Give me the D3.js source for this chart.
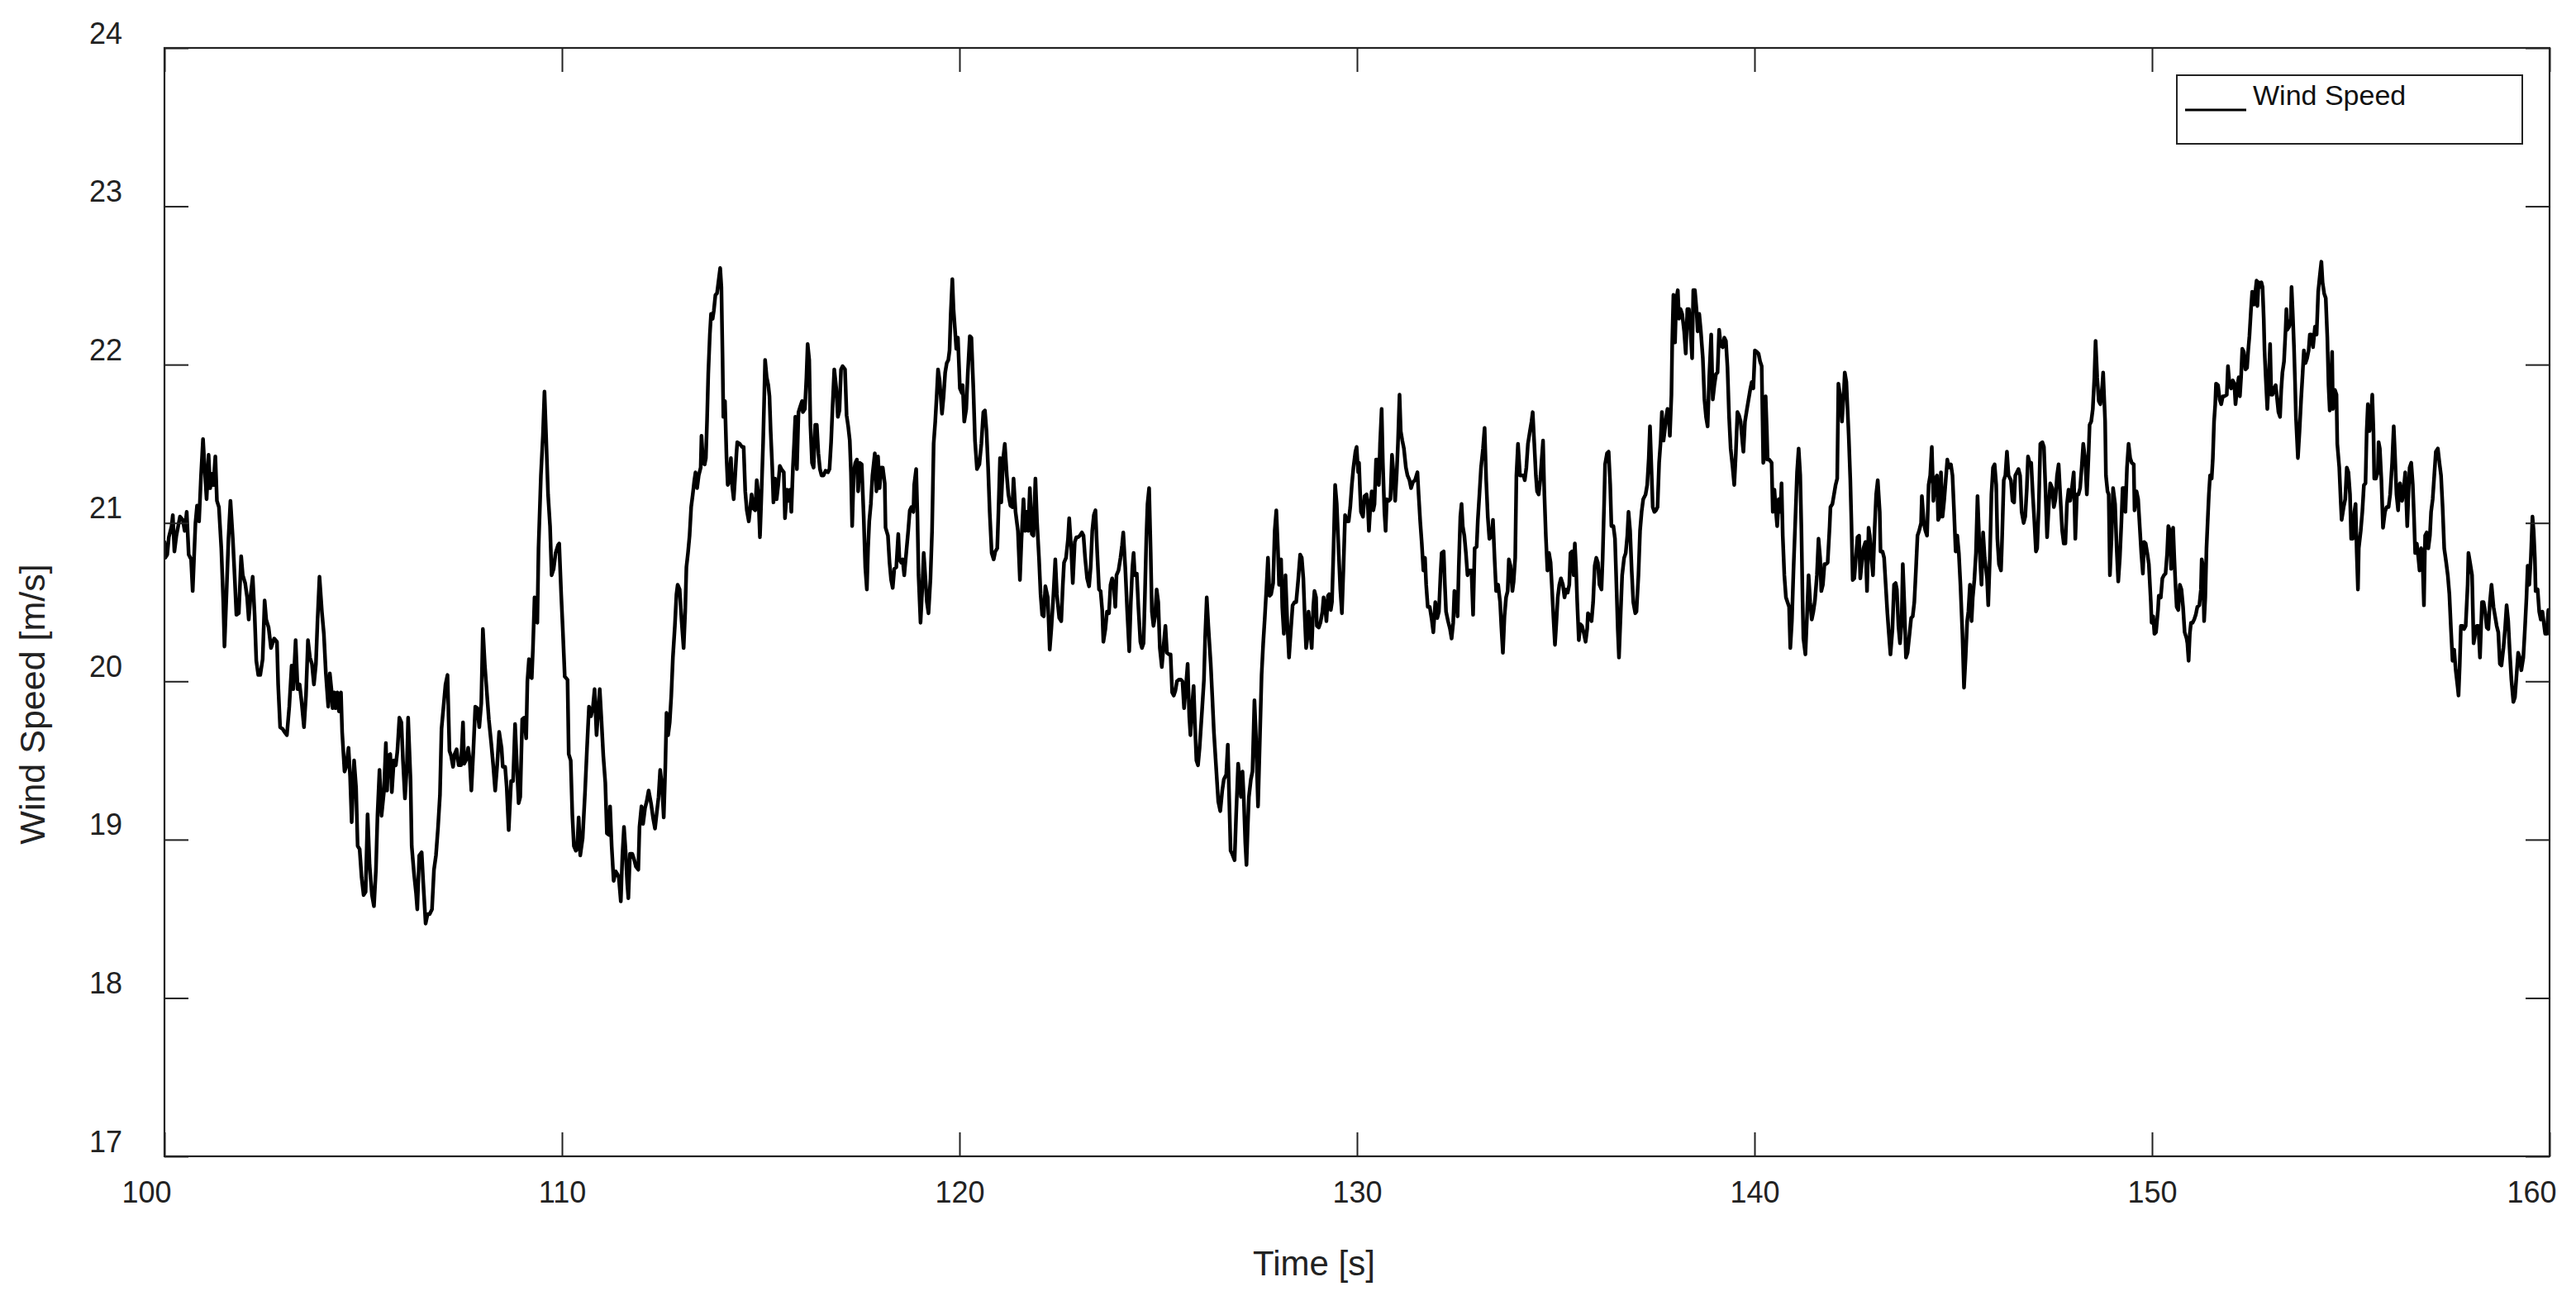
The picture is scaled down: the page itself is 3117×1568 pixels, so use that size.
<!DOCTYPE html>
<html>
<head>
<meta charset="utf-8">
<script src="https://cdnjs.cloudflare.com/ajax/libs/d3/7.8.5/d3.min.js"></script>
<style>
  html, body { margin: 0; padding: 0; background: #ffffff; }
  svg { display: block; }
</style>
</head>
<body>
<script>
// ---------------- DATA ----------------
const xTickValues = [100, 110, 120, 130, 140, 150, 160];
const yTickValues = [17, 18, 19, 20, 21, 22, 23, 24];
const xLabel = "Time [s]";
const yLabel = "Wind Speed [m/s]";
const seriesName = "Wind Speed";

// [time (s), wind speed (m/s)]
const windSpeed = [
[100.00,20.88],[100.02,20.78],[100.07,20.80],[100.11,20.91],[100.18,20.98],[100.21,21.05],[100.25,20.82],[100.30,20.92],[100.39,21.04],[100.46,21.02],[100.51,20.95],[100.56,21.07],[100.61,20.80],[100.67,20.77],[100.71,20.57],[100.78,21.00],[100.82,21.11],[100.87,21.01],[100.92,21.30],[100.97,21.53],[101.01,21.35],[101.06,21.15],[101.11,21.43],[101.15,21.22],[101.20,21.31],[101.23,21.24],[101.28,21.42],[101.32,21.14],[101.37,21.10],[101.43,20.84],[101.48,20.50],[101.51,20.22],[101.56,20.55],[101.61,20.90],[101.66,21.14],[101.72,20.90],[101.77,20.64],[101.81,20.42],[101.87,20.43],[101.93,20.79],[101.97,20.67],[102.03,20.62],[102.08,20.53],[102.12,20.39],[102.17,20.55],[102.22,20.66],[102.27,20.41],[102.31,20.13],[102.36,20.04],[102.41,20.04],[102.47,20.14],[102.52,20.51],[102.56,20.39],[102.62,20.34],[102.68,20.21],[102.72,20.24],[102.76,20.27],[102.83,20.25],[102.86,19.98],[102.91,19.71],[102.97,19.70],[103.02,19.68],[103.08,19.66],[103.14,19.84],[103.20,20.10],[103.24,19.95],[103.30,20.26],[103.35,19.95],[103.40,19.98],[103.45,19.87],[103.51,19.71],[103.56,19.91],[103.61,20.26],[103.66,20.15],[103.71,20.11],[103.76,19.98],[103.81,20.11],[103.85,20.38],[103.90,20.66],[103.96,20.44],[104.01,20.30],[104.06,20.05],[104.12,19.84],[104.16,20.05],[104.20,19.95],[104.23,19.83],[104.27,19.93],[104.30,19.83],[104.35,19.93],[104.39,19.81],[104.44,19.93],[104.47,19.68],[104.53,19.43],[104.57,19.46],[104.63,19.58],[104.67,19.40],[104.71,19.11],[104.77,19.50],[104.82,19.33],[104.86,18.96],[104.91,18.94],[104.96,18.76],[105.01,18.65],[105.06,18.67],[105.11,19.16],[105.16,18.84],[105.22,18.65],[105.27,18.58],[105.32,18.81],[105.36,19.16],[105.41,19.44],[105.46,19.15],[105.52,19.30],[105.57,19.61],[105.60,19.31],[105.63,19.53],[105.68,19.54],[105.72,19.30],[105.77,19.50],[105.82,19.47],[105.86,19.56],[105.91,19.77],[105.96,19.74],[106.00,19.50],[106.05,19.26],[106.10,19.47],[106.13,19.77],[106.19,19.38],[106.22,18.96],[106.28,18.78],[106.33,18.66],[106.36,18.56],[106.41,18.90],[106.47,18.92],[106.51,18.73],[106.57,18.47],[106.62,18.53],[106.67,18.53],[106.73,18.56],[106.78,18.81],[106.83,18.90],[106.88,19.07],[106.93,19.28],[106.97,19.70],[107.02,19.84],[107.07,19.98],[107.12,20.04],[107.17,19.56],[107.21,19.53],[107.26,19.46],[107.30,19.54],[107.35,19.57],[107.40,19.47],[107.46,19.47],[107.51,19.74],[107.54,19.48],[107.60,19.51],[107.64,19.58],[107.68,19.50],[107.72,19.31],[107.77,19.56],[107.82,19.84],[107.87,19.83],[107.92,19.71],[107.97,19.86],[108.01,20.33],[108.06,20.10],[108.11,19.93],[108.16,19.76],[108.22,19.61],[108.27,19.47],[108.32,19.31],[108.37,19.47],[108.42,19.68],[108.48,19.58],[108.51,19.46],[108.57,19.46],[108.61,19.33],[108.66,19.06],[108.72,19.37],[108.77,19.37],[108.82,19.73],[108.86,19.50],[108.91,19.23],[108.95,19.27],[109.00,19.76],[109.05,19.77],[109.10,19.64],[109.13,20.00],[109.17,20.14],[109.20,20.03],[109.24,20.02],[109.27,20.21],[109.31,20.53],[109.34,20.38],[109.38,20.37],[109.41,20.84],[109.47,21.30],[109.52,21.55],[109.56,21.83],[109.60,21.55],[109.65,21.18],[109.70,20.98],[109.74,20.67],[109.79,20.71],[109.84,20.81],[109.90,20.86],
[109.93,20.87],[109.98,20.55],[110.02,20.33],[110.07,20.03],[110.14,20.01],[110.17,19.54],[110.22,19.50],[110.26,19.16],[110.30,18.96],[110.35,18.93],[110.38,18.94],[110.42,19.14],[110.46,18.90],[110.52,19.01],[110.58,19.30],[110.63,19.58],[110.68,19.84],[110.73,19.78],[110.78,19.84],[110.82,19.95],[110.87,19.66],[110.91,19.81],[110.95,19.95],[110.99,19.77],[111.04,19.53],[111.09,19.36],[111.13,19.04],[111.18,19.03],[111.21,19.21],[111.25,18.96],[111.30,18.74],[111.35,18.80],[111.40,18.78],[111.43,18.76],[111.48,18.61],[111.52,18.90],[111.56,19.08],[111.60,18.93],[111.64,18.73],[111.67,18.63],[111.71,18.91],[111.77,18.91],[111.82,18.87],[111.86,18.83],[111.92,18.81],[111.95,19.08],[112.00,19.21],[112.04,19.10],[112.09,19.20],[112.13,19.24],[112.18,19.31],[112.24,19.23],[112.29,19.14],[112.34,19.07],[112.38,19.16],[112.43,19.27],[112.47,19.44],[112.52,19.33],[112.56,19.14],[112.60,19.46],[112.63,19.80],[112.67,19.66],[112.71,19.74],[112.75,19.91],[112.79,20.15],[112.84,20.35],[112.88,20.55],[112.91,20.61],[112.96,20.58],[113.01,20.38],[113.06,20.21],[113.10,20.44],[113.13,20.72],[113.17,20.81],[113.21,20.92],[113.25,21.10],[113.29,21.18],[113.33,21.27],[113.36,21.32],[113.40,21.22],[113.44,21.30],[113.49,21.35],[113.51,21.55],[113.55,21.38],[113.59,21.37],[113.62,21.41],[113.65,21.65],[113.68,21.94],[113.72,22.19],[113.75,22.32],[113.79,22.29],[113.82,22.34],[113.86,22.44],[113.90,22.45],[113.94,22.53],[113.98,22.61],[114.01,22.49],[114.04,22.04],[114.06,21.67],[114.10,21.77],[114.14,21.41],[114.17,21.24],[114.21,21.27],[114.25,21.41],[114.28,21.24],[114.32,21.15],[114.35,21.27],[114.39,21.44],[114.41,21.51],[114.47,21.50],[114.53,21.48],[114.57,21.48],[114.61,21.20],[114.65,21.08],[114.70,21.01],[114.73,21.08],[114.77,21.18],[114.82,21.09],[114.86,21.08],[114.90,21.27],[114.94,21.18],[114.98,20.91],[115.01,21.12],[115.06,21.51],[115.09,21.81],[115.11,22.03],[115.15,21.92],[115.19,21.87],[115.22,21.80],[115.25,21.58],[115.29,21.35],[115.32,21.13],[115.36,21.28],[115.40,21.15],[115.44,21.24],[115.48,21.36],[115.52,21.34],[115.58,21.32],[115.61,21.03],[115.66,21.21],[115.70,21.14],[115.74,21.21],[115.77,21.07],[115.81,21.35],[115.84,21.50],[115.87,21.67],[115.91,21.34],[115.95,21.70],[116.00,21.74],[116.04,21.77],[116.06,21.70],[116.11,21.72],[116.15,21.92],[116.18,22.13],[116.22,22.03],[116.25,21.62],[116.29,21.38],[116.33,21.35],[116.37,21.62],[116.41,21.62],[116.45,21.44],[116.49,21.34],[116.53,21.30],[116.58,21.30],[116.63,21.33],[116.69,21.32],[116.73,21.34],[116.77,21.51],[116.81,21.75],[116.85,21.97],[116.90,21.85],[116.94,21.67],[116.98,21.71],[117.02,21.97],[117.06,21.99],[117.12,21.97],[117.16,21.68],[117.20,21.61],[117.24,21.52],[117.27,21.32],[117.30,20.98],[117.34,21.32],[117.38,21.38],[117.42,21.40],[117.45,21.20],[117.49,21.38],[117.54,21.37],[117.59,21.04],[117.63,20.72],[117.67,20.58],[117.70,20.84],[117.73,21.01],[117.77,21.12],[117.81,21.30],[117.87,21.44],[117.91,21.20],[117.95,21.42],[117.99,21.22],[118.03,21.35],[118.07,21.35],[118.12,21.25],[118.14,20.97],[118.20,20.92],[118.24,20.75],[118.28,20.64],[118.32,20.59],[118.36,20.71],[118.41,20.72],[118.46,20.93],[118.49,20.77],[118.53,20.75],[118.57,20.77],[118.61,20.67],[118.66,20.81],[118.71,20.95],[118.75,21.08],[118.79,21.10],[118.84,21.07],[118.86,21.24],[118.91,21.34],[118.94,21.07],[118.97,20.67],[119.02,20.37],[119.06,20.57],[119.10,20.81],[119.13,20.70],[119.18,20.50],[119.22,20.43],[119.27,20.65],[119.31,20.95],[119.35,21.50],[119.39,21.64],[119.43,21.82],[119.46,21.97],[119.50,21.90],[119.56,21.69],[119.60,21.80],[119.64,21.95],[119.68,22.01],[119.72,22.03],[119.75,22.09],[119.78,22.32],[119.82,22.54],[119.85,22.35],[119.89,22.21],[119.92,22.10],[119.96,22.17],[119.99,21.98],[120.01,21.85],[120.06,21.82],
[120.08,21.87],[120.12,21.64],[120.17,21.72],[120.21,21.95],[120.26,22.18],[120.30,22.17],[120.35,21.84],[120.39,21.52],[120.44,21.34],[120.50,21.37],[120.55,21.50],[120.60,21.70],[120.64,21.71],[120.68,21.58],[120.72,21.35],[120.76,21.07],[120.81,20.81],[120.86,20.77],[120.90,20.82],[120.95,20.84],[120.98,21.07],[121.02,21.41],[121.05,21.13],[121.10,21.41],[121.14,21.50],[121.19,21.30],[121.23,21.18],[121.28,21.11],[121.33,21.10],[121.36,21.28],[121.41,21.07],[121.47,20.95],[121.52,20.64],[121.56,20.90],[121.61,21.15],[121.65,20.95],[121.69,21.07],[121.73,20.95],[121.77,21.22],[121.82,20.93],[121.86,20.92],[121.91,21.28],[121.95,21.01],[122.00,20.78],[122.04,20.55],[122.08,20.42],[122.12,20.41],[122.16,20.60],[122.22,20.53],[122.27,20.20],[122.31,20.33],[122.36,20.53],[122.41,20.77],[122.45,20.55],[122.51,20.40],[122.56,20.38],[122.60,20.61],[122.63,20.75],[122.68,20.78],[122.73,20.90],[122.76,21.03],[122.81,20.84],[122.85,20.62],[122.90,20.88],[122.94,20.91],[122.98,20.91],[123.03,20.92],[123.08,20.94],[123.12,20.92],[123.16,20.78],[123.21,20.65],[123.26,20.60],[123.30,20.72],[123.34,20.95],[123.38,21.05],[123.42,21.08],[123.46,20.84],[123.51,20.58],[123.55,20.57],[123.59,20.45],[123.62,20.25],[123.67,20.33],[123.71,20.44],[123.76,20.43],[123.80,20.61],[123.84,20.65],[123.88,20.61],[123.92,20.47],[123.95,20.67],[124.00,20.70],[124.05,20.78],[124.09,20.86],[124.12,20.94],[124.17,20.72],[124.22,20.44],[124.27,20.19],[124.31,20.50],[124.35,20.72],[124.38,20.81],[124.41,20.67],[124.46,20.68],[124.50,20.47],[124.55,20.25],[124.59,20.21],[124.63,20.24],[124.66,20.50],[124.70,20.90],[124.73,21.12],[124.77,21.22],[124.81,20.81],[124.84,20.44],[124.88,20.35],[124.92,20.41],[124.96,20.58],[125.00,20.50],[125.04,20.21],[125.09,20.09],[125.14,20.24],[125.18,20.35],[125.22,20.18],[125.27,20.17],[125.31,20.17],[125.35,19.93],[125.39,19.91],[125.43,19.94],[125.47,20.00],[125.52,20.01],[125.57,20.01],[125.61,20.00],[125.65,19.83],[125.70,19.98],[125.74,20.11],[125.78,19.78],[125.81,19.66],[125.85,19.84],[125.89,19.97],[125.92,19.75],[125.96,19.50],[126.00,19.47],[126.04,19.58],[126.10,19.81],[126.15,20.01],[126.18,20.28],[126.22,20.53],[126.26,20.35],[126.32,20.11],[126.36,19.90],[126.40,19.68],[126.46,19.44],[126.51,19.24],[126.56,19.18],[126.61,19.31],[126.65,19.38],[126.71,19.41],[126.75,19.60],[126.79,19.21],[126.82,18.93],[126.86,18.91],[126.92,18.87],[126.96,19.16],[127.01,19.48],[127.05,19.37],[127.08,19.27],[127.12,19.43],[127.15,19.27],[127.19,18.98],[127.22,18.84],[127.25,19.07],[127.28,19.27],[127.33,19.38],[127.37,19.43],[127.42,19.88],[127.46,19.64],[127.51,19.21],[127.55,19.58],[127.60,20.04],[127.64,20.24],[127.68,20.40],[127.72,20.58],[127.76,20.78],[127.80,20.54],[127.84,20.55],[127.89,20.62],[127.93,20.95],[127.97,21.08],[128.01,20.84],[128.04,20.61],[128.09,20.77],[128.12,20.47],[128.16,20.30],[128.20,20.67],[128.25,20.35],[128.29,20.15],[128.33,20.30],[128.38,20.48],[128.43,20.50],[128.47,20.50],[128.52,20.64],[128.57,20.80],[128.61,20.78],[128.65,20.65],[128.69,20.38],[128.72,20.21],[128.75,20.27],[128.78,20.44],[128.82,20.34],[128.86,20.21],[128.90,20.47],[128.93,20.57],[128.97,20.53],[128.99,20.35],[129.04,20.34],[129.08,20.37],[129.13,20.44],[129.16,20.53],[129.20,20.47],[129.23,20.38],[129.27,20.54],[129.30,20.55],[129.34,20.45],[129.37,20.50],[129.41,20.84],[129.45,21.24],[129.49,21.12],[129.54,20.81],[129.58,20.58],[129.62,20.43],[129.66,20.72],[129.70,21.05],[129.74,21.01],[129.79,21.01],[129.83,21.10],[129.87,21.24],[129.91,21.35],[129.96,21.45],[129.99,21.48],[130.03,21.32],
[130.05,21.38],[130.08,21.18],[130.10,21.07],[130.15,21.04],[130.19,21.17],[130.24,21.18],[130.27,21.12],[130.30,20.95],[130.34,21.12],[130.37,21.20],[130.41,21.08],[130.44,21.12],[130.48,21.40],[130.51,21.40],[130.55,21.24],[130.58,21.50],[130.62,21.72],[130.65,21.38],[130.69,21.07],[130.72,20.95],[130.75,21.15],[130.80,21.14],[130.84,21.15],[130.88,21.43],[130.93,21.27],[130.96,21.14],[131.00,21.32],[131.03,21.50],[131.07,21.81],[131.10,21.58],[131.14,21.52],[131.18,21.47],[131.23,21.35],[131.27,21.30],[131.32,21.27],[131.36,21.22],[131.41,21.26],[131.46,21.27],[131.52,21.32],[131.55,21.18],[131.59,21.01],[131.63,20.87],[131.67,20.70],[131.71,20.78],[131.74,20.61],[131.78,20.47],[131.83,20.47],[131.88,20.39],[131.92,20.31],[131.97,20.50],[132.02,20.40],[132.06,20.44],[132.10,20.67],[132.13,20.81],[132.18,20.82],[132.21,20.61],[132.24,20.44],[132.29,20.38],[132.34,20.33],[132.38,20.27],[132.42,20.37],[132.45,20.57],[132.49,20.55],[132.53,20.41],[132.56,20.72],[132.60,21.04],[132.63,21.12],[132.66,20.98],[132.70,20.92],[132.74,20.81],[132.78,20.67],[132.82,20.70],[132.88,20.70],[132.92,20.42],[132.96,20.84],[133.01,20.85],[133.04,21.02],[133.08,21.18],[133.12,21.35],[133.17,21.47],[133.21,21.60],[133.25,21.27],[133.29,21.04],[133.33,20.90],[133.39,20.92],[133.42,21.02],[133.46,20.78],[133.50,20.57],[133.55,20.61],[133.60,20.50],[133.63,20.35],[133.67,20.18],[133.71,20.41],[133.75,20.53],[133.79,20.57],[133.82,20.77],[133.86,20.73],[133.91,20.57],[133.94,20.63],[133.98,20.78],[134.01,21.30],[134.05,21.50],[134.10,21.30],[134.14,21.30],[134.19,21.30],[134.22,21.27],[134.26,21.35],[134.30,21.50],[134.35,21.58],[134.39,21.64],[134.42,21.70],[134.46,21.50],[134.50,21.30],[134.53,21.20],[134.57,21.18],[134.61,21.27],[134.64,21.38],[134.68,21.52],[134.71,21.21],[134.75,20.92],[134.79,20.70],[134.83,20.81],[134.87,20.75],[134.90,20.61],[134.94,20.41],[134.98,20.23],[135.01,20.35],[135.05,20.53],[135.09,20.61],[135.13,20.65],[135.18,20.61],[135.22,20.53],[135.26,20.58],[135.30,20.56],[135.34,20.61],[135.37,20.81],[135.41,20.82],[135.45,20.67],[135.48,20.87],[135.51,20.72],[135.54,20.50],[135.58,20.26],[135.62,20.36],[135.66,20.35],[135.71,20.30],[135.75,20.25],[135.79,20.33],[135.81,20.43],[135.86,20.41],[135.90,20.38],[135.94,20.50],[135.98,20.73],[136.02,20.78],[136.06,20.75],[136.10,20.61],[136.15,20.58],[136.18,20.78],[136.22,21.15],[136.24,21.37],[136.29,21.44],[136.33,21.45],[136.37,21.24],[136.40,20.98],[136.45,20.98],[136.49,20.90],[136.53,20.58],[136.56,20.33],[136.59,20.15],[136.63,20.41],[136.67,20.67],[136.72,20.78],[136.76,20.81],[136.80,20.92],[136.83,21.07],[136.87,20.95],[136.91,20.70],[136.95,20.50],[137.00,20.43],[137.03,20.44],[137.08,20.67],[137.12,20.95],[137.16,21.07],[137.20,21.15],[137.26,21.18],[137.30,21.24],[137.34,21.41],[137.37,21.61],[137.41,21.32],[137.44,21.10],[137.48,21.07],[137.52,21.08],[137.56,21.10],[137.60,21.38],[137.64,21.52],[137.67,21.70],[137.71,21.52],[137.74,21.58],[137.78,21.67],[137.81,21.72],[137.84,21.70],[137.87,21.55],[137.91,21.81],[137.93,22.14],[137.96,22.44],[138.00,22.14],[138.03,22.41],[138.07,22.47],[138.10,22.29],[138.14,22.35],[138.18,22.32],[138.23,22.21],[138.27,22.07],[138.31,22.35],[138.35,22.35],[138.39,22.21],[138.43,22.04],[138.46,22.47],[138.50,22.47],[138.54,22.35],[138.57,22.21],[138.61,22.32],[138.65,22.21],[138.70,22.04],[138.74,21.78],[138.78,21.67],[138.82,21.61],[138.86,21.92],[138.91,22.19],[138.95,21.78],[138.99,21.87],[139.03,21.94],[139.07,21.95],[139.11,22.22],[139.15,22.12],[139.20,22.11],[139.24,22.17],[139.28,22.15],[139.32,21.98],[139.36,21.67],[139.40,21.47],[139.45,21.35],[139.49,21.24],[139.53,21.44],[139.57,21.70],[139.61,21.68],[139.65,21.64],[139.70,21.50],[139.72,21.45],[139.76,21.64],[139.81,21.72],[139.85,21.78],[139.89,21.84],[139.93,21.89],[139.97,21.85],[140.01,22.09],
[140.06,22.08],[140.10,22.07],[140.14,22.02],[140.18,21.99],[140.22,21.38],[140.25,21.41],[140.28,21.80],[140.31,21.58],[140.33,21.40],[140.37,21.40],[140.43,21.38],[140.46,21.07],[140.50,21.21],[140.54,21.07],[140.57,20.98],[140.61,21.15],[140.65,21.07],[140.68,21.25],[140.71,20.92],[140.75,20.67],[140.79,20.53],[140.83,20.50],[140.87,20.47],[140.90,20.21],[140.94,20.38],[140.98,20.70],[141.03,21.04],[141.07,21.32],[141.11,21.47],[141.15,21.30],[141.18,20.95],[141.21,20.50],[141.23,20.27],[141.28,20.17],[141.32,20.41],[141.36,20.67],[141.40,20.50],[141.44,20.39],[141.48,20.44],[141.52,20.51],[141.57,20.67],[141.61,20.90],[141.65,20.78],[141.68,20.57],[141.72,20.61],[141.76,20.74],[141.80,20.74],[141.84,20.75],[141.89,20.98],[141.91,21.10],[141.96,21.12],[142.00,21.18],[142.04,21.24],[142.08,21.28],[142.11,21.88],[142.15,21.81],[142.18,21.74],[142.20,21.64],[142.25,21.84],[142.27,21.95],[142.31,21.89],[142.34,21.72],[142.37,21.55],[142.41,21.27],[142.44,20.98],[142.47,20.64],[142.51,20.65],[142.55,20.78],[142.59,20.91],[142.63,20.92],[142.66,20.65],[142.70,20.75],[142.74,20.84],[142.79,20.88],[142.83,20.57],[142.87,20.97],[142.90,20.92],[142.94,20.78],[142.98,20.67],[143.02,20.95],[143.06,21.18],[143.10,21.27],[143.15,21.07],[143.17,20.82],[143.22,20.82],[143.26,20.78],[143.30,20.61],[143.34,20.44],[143.38,20.30],[143.42,20.17],[143.47,20.33],[143.51,20.61],[143.55,20.62],[143.58,20.58],[143.62,20.35],[143.66,20.24],[143.70,20.37],[143.73,20.74],[143.77,20.48],[143.81,20.15],[143.85,20.18],[143.90,20.30],[143.94,20.40],[143.98,20.41],[144.02,20.50],[144.06,20.70],[144.10,20.92],[144.14,20.95],[144.19,21.00],[144.21,21.17],[144.26,21.00],[144.30,20.95],[144.34,20.92],[144.38,21.24],[144.42,21.30],[144.46,21.48],[144.50,21.14],[144.55,21.28],[144.59,21.30],[144.62,21.02],[144.66,21.04],[144.69,21.32],[144.73,21.04],[144.77,21.14],[144.81,21.27],[144.85,21.40],[144.89,21.35],[144.94,21.37],[144.98,21.30],[145.02,21.07],[145.06,20.82],[145.10,20.92],[145.14,20.81],[145.18,20.61],[145.23,20.30],[145.27,19.96],[145.31,20.15],[145.35,20.38],[145.38,20.44],[145.42,20.61],[145.46,20.38],[145.49,20.53],[145.53,20.64],[145.57,20.81],[145.61,21.17],[145.66,20.84],[145.71,20.61],[145.75,20.94],[145.79,20.78],[145.85,20.65],[145.88,20.48],[145.92,20.78],[145.96,21.18],[146.00,21.35],[146.04,21.37],[146.08,21.24],[146.11,20.90],[146.15,20.74],[146.20,20.70],[146.22,20.84],[146.27,21.27],[146.31,21.30],[146.35,21.45],[146.39,21.30],[146.45,21.27],[146.49,21.14],[146.53,21.13],[146.56,21.30],[146.60,21.32],[146.64,21.34],[146.68,21.30],[146.72,21.07],[146.77,21.00],[146.81,21.04],[146.85,21.22],[146.88,21.42],[146.92,21.38],[146.96,21.38],[147.00,21.18],[147.04,21.01],[147.08,20.82],[147.11,20.84],[147.15,21.10],[147.19,21.50],[147.24,21.51],[147.28,21.48],[147.32,21.21],[147.36,20.91],[147.40,21.10],[147.44,21.25],[147.49,21.22],[147.53,21.10],[147.57,21.15],[147.61,21.30],[147.65,21.37],[147.69,21.18],[147.74,20.95],[147.78,20.87],[147.82,20.87],[147.86,21.12],[147.90,21.21],[147.94,21.14],[147.98,21.21],[148.03,21.32],[148.07,20.90],[148.11,21.18],[148.15,21.18],[148.19,21.22],[148.23,21.35],[148.27,21.50],[148.32,21.40],[148.36,21.18],[148.40,21.41],[148.43,21.62],[148.47,21.64],[148.51,21.72],[148.55,21.92],[148.58,22.15],[148.62,21.92],[148.66,21.77],[148.70,21.75],[148.75,21.87],[148.77,21.95],[148.82,21.64],[148.84,21.30],[148.88,21.20],[148.91,21.18],[148.94,20.67],[148.98,20.90],[149.02,21.22],[149.07,21.12],[149.11,20.84],[149.15,20.63],[149.19,20.78],[149.23,21.01],[149.26,21.22],[149.30,21.22],[149.33,21.07],[149.37,21.35],[149.41,21.50],[149.45,21.41],[149.49,21.38],[149.54,21.37],[149.56,21.08],[149.61,21.20],[149.65,21.15],[149.69,20.98],[149.73,20.81],[149.77,20.68],[149.80,20.88],[149.84,20.87],[149.88,20.81],[149.92,20.74],[149.97,20.50],[149.99,20.37],
[150.03,20.41],[150.06,20.30],[150.10,20.31],[150.15,20.45],[150.17,20.54],[150.22,20.53],[150.26,20.65],[150.30,20.67],[150.34,20.68],[150.38,20.81],[150.41,20.98],[150.45,20.95],[150.48,20.71],[150.51,20.81],[150.53,20.97],[150.56,20.78],[150.59,20.61],[150.62,20.47],[150.66,20.45],[150.70,20.61],[150.74,20.58],[150.78,20.47],[150.82,20.31],[150.87,20.27],[150.89,20.24],[150.92,20.13],[150.95,20.30],[150.98,20.37],[151.02,20.37],[151.06,20.39],[151.10,20.42],[151.14,20.47],[151.19,20.48],[151.23,20.58],[151.25,20.77],[151.28,20.73],[151.31,20.38],[151.34,20.53],[151.37,20.84],[151.41,21.07],[151.43,21.18],[151.46,21.30],[151.50,21.28],[151.53,21.41],[151.56,21.64],[151.59,21.75],[151.61,21.88],[151.66,21.87],[151.70,21.78],[151.74,21.75],[151.78,21.80],[151.82,21.80],[151.88,21.81],[151.91,21.99],[151.95,21.87],[151.99,21.85],[152.03,21.90],[152.07,21.88],[152.10,21.75],[152.14,21.85],[152.18,21.92],[152.21,21.80],[152.24,21.92],[152.27,22.10],[152.31,22.08],[152.35,21.97],[152.39,21.98],[152.42,22.09],[152.45,22.18],[152.49,22.35],[152.52,22.46],[152.54,22.41],[152.57,22.38],[152.60,22.46],[152.63,22.53],[152.65,22.37],[152.68,22.52],[152.71,22.49],[152.75,22.52],[152.78,22.49],[152.81,22.29],[152.83,22.09],[152.86,21.92],[152.90,21.72],[152.93,21.87],[152.97,22.13],[153.00,21.81],[153.03,21.81],[153.07,21.85],[153.11,21.87],[153.14,21.80],[153.18,21.70],[153.22,21.67],[153.25,21.84],[153.28,21.95],[153.32,22.02],[153.36,22.22],[153.38,22.35],[153.40,22.22],[153.45,22.24],[153.49,22.29],[153.51,22.49],[153.54,22.32],[153.57,22.12],[153.60,21.87],[153.62,21.67],[153.67,21.41],[153.71,21.58],[153.75,21.78],[153.79,21.95],[153.82,22.09],[153.86,22.01],[153.90,22.04],[153.94,22.09],[153.97,22.19],[154.01,22.19],[154.05,22.11],[154.10,22.24],[154.14,22.19],[154.18,22.46],[154.22,22.56],[154.26,22.65],[154.29,22.52],[154.33,22.45],[154.37,22.42],[154.41,22.17],[154.44,21.87],[154.47,21.71],[154.51,21.92],[154.53,22.08],[154.55,21.72],[154.60,21.84],[154.64,21.81],[154.66,21.50],[154.71,21.35],[154.75,21.12],[154.77,21.02],[154.82,21.10],[154.86,21.15],[154.90,21.35],[154.94,21.32],[154.98,21.18],[155.01,20.90],[155.05,20.90],[155.09,21.07],[155.12,21.12],[155.15,20.81],[155.18,20.58],[155.20,20.84],[155.25,20.95],[155.29,21.07],[155.33,21.24],[155.37,21.25],[155.40,21.58],[155.43,21.75],[155.47,21.58],[155.51,21.67],[155.54,21.81],[155.57,21.58],[155.59,21.28],[155.63,21.28],[155.68,21.32],[155.70,21.51],[155.73,21.47],[155.77,21.27],[155.81,20.97],[155.86,21.07],[155.90,21.10],[155.95,21.10],[155.99,21.18],[156.04,21.38],[156.08,21.61],[156.11,21.44],[156.15,21.18],[156.19,21.08],[156.22,21.24],[156.24,21.25],[156.29,21.14],[156.33,21.21],[156.37,21.32],[156.40,21.12],[156.42,20.98],[156.45,21.18],[156.48,21.35],[156.52,21.38],[156.56,21.24],[156.59,21.04],[156.62,20.81],[156.66,20.87],[156.70,20.78],[156.73,20.70],[156.77,20.84],[156.81,20.73],[156.84,20.48],[156.87,20.92],[156.91,20.94],[156.95,20.84],[156.99,20.92],[157.02,21.07],[157.06,21.15],[157.10,21.30],[157.14,21.45],[157.19,21.47],[157.23,21.38],[157.27,21.30],[157.31,21.10],[157.35,20.84],[157.40,20.75],[157.44,20.67],[157.48,20.55],[157.52,20.33],[157.56,20.13],[157.60,20.20],[157.64,20.07],[157.69,19.96],[157.71,19.91],[157.74,20.10],[157.77,20.35],[157.81,20.35],[157.85,20.33],[157.89,20.35],[157.94,20.61],[157.96,20.81],[158.00,20.75],[158.05,20.67],[158.09,20.24],[158.13,20.30],[158.17,20.35],[158.21,20.35],[158.25,20.15],[158.30,20.50],[158.34,20.50],[158.38,20.44],[158.42,20.34],[158.46,20.33],[158.50,20.50],[158.54,20.61],[158.59,20.47],[158.63,20.41],[158.67,20.35],[158.71,20.31],[158.75,20.11],[158.79,20.10],[158.84,20.21],[158.88,20.33],[158.92,20.48],[158.96,20.38],[159.00,20.18],[159.04,20.01],[159.09,19.87],[159.13,19.90],[159.17,20.04],[159.21,20.18],[159.25,20.15],[159.29,20.07],[159.34,20.15],[159.38,20.33],[159.42,20.53],[159.45,20.73],[159.49,20.61],[159.53,20.78],[159.57,21.04],[159.60,20.95],[159.63,20.78],[159.65,20.57],[159.70,20.58],[159.74,20.44],[159.78,20.39],[159.82,20.44],[159.85,20.38],[159.89,20.30],[159.93,20.30],[159.97,20.45],[160.00,20.30]
];

// ---------------- LAYOUT ----------------
const W = 3117, H = 1568;
const plot = { left: 199, right: 3085, top: 58, bottom: 1399 };
const FONT = "'Liberation Sans', Arial, Helvetica, sans-serif";
const AXIS_COLOR = "#222";
const TICK_LEN = 29;

const svg = d3.select("body").append("svg")
  .attr("width", W).attr("height", H)
  .attr("viewBox", `0 0 ${W} ${H}`);

svg.append("rect").attr("width", W).attr("height", H).attr("fill", "#ffffff");

const x = d3.scaleLinear().domain([100, 160]).range([plot.left, plot.right]);
const y = d3.scaleLinear().domain([17, 24]).range([plot.bottom, plot.top]);

// Clip for data line
svg.append("clipPath").attr("id", "plotClip")
  .append("rect")
  .attr("x", plot.left).attr("y", plot.top)
  .attr("width", plot.right - plot.left).attr("height", plot.bottom - plot.top);

// Data line
const line = d3.line()
  .x(d => x(d[0]))
  .y(d => y(d[1]));

svg.append("path")
  .datum(windSpeed)
  .attr("clip-path", "url(#plotClip)")
  .attr("fill", "none")
  .attr("stroke", "#000")
  .attr("stroke-width", 4.5)
  .attr("stroke-linejoin", "round")
  .attr("stroke-linecap", "round")
  .attr("d", line);

// Axes with inward ticks
function styleAxis(g) {
  g.select(".domain").remove();
  g.selectAll(".tick line").attr("stroke", AXIS_COLOR).attr("stroke-width", 2);
  g.selectAll(".tick text")
    .attr("fill", AXIS_COLOR)
    .attr("font-family", FONT)
    .attr("font-size", 36);
}

// Left axis
const gLeft = svg.append("g")
  .attr("transform", `translate(${plot.left},0)`)
  .call(d3.axisLeft(y).tickValues(yTickValues).tickSize(-TICK_LEN).tickPadding(51).tickFormat(d3.format("d")));
styleAxis(gLeft);
gLeft.selectAll(".tick text").attr("dy", null).attr("y", -6);

// Right axis (ticks only)
const gRight = svg.append("g")
  .attr("transform", `translate(${plot.right},0)`)
  .call(d3.axisRight(y).tickValues(yTickValues).tickSize(-TICK_LEN).tickFormat(""));
styleAxis(gRight);

// Bottom axis
const gBottom = svg.append("g")
  .attr("transform", `translate(0,${plot.bottom})`)
  .call(d3.axisBottom(x).tickValues(xTickValues).tickSize(-TICK_LEN).tickFormat(d3.format("d")));
styleAxis(gBottom);
const lastX = xTickValues.length - 1;
gBottom.selectAll(".tick text")
  .attr("dy", null)
  .attr("y", 56)
  .attr("x", (d, i) => (i === 0 || i === lastX) ? -22 : 0);

// Top axis (ticks only)
const gTop = svg.append("g")
  .attr("transform", `translate(0,${plot.top})`)
  .call(d3.axisTop(x).tickValues(xTickValues).tickSize(-TICK_LEN).tickFormat(""));
styleAxis(gTop);

// Frame
svg.append("rect")
  .attr("x", plot.left).attr("y", plot.top)
  .attr("width", plot.right - plot.left).attr("height", plot.bottom - plot.top)
  .attr("fill", "none").attr("stroke", AXIS_COLOR).attr("stroke-width", 2.2);

// Axis titles
svg.append("text")
  .attr("x", 1590).attr("y", 1543)
  .attr("text-anchor", "middle")
  .attr("font-family", FONT).attr("font-size", 42)
  .attr("fill", AXIS_COLOR)
  .text(xLabel);

svg.append("text")
  .attr("transform", "translate(54,852) rotate(-90)")
  .attr("text-anchor", "middle")
  .attr("font-family", FONT).attr("font-size", 43)
  .attr("fill", AXIS_COLOR)
  .text(yLabel);

// Legend
const legend = svg.append("g");
legend.append("rect")
  .attr("x", 2634).attr("y", 91).attr("width", 418).attr("height", 83)
  .attr("fill", "#fff").attr("stroke", AXIS_COLOR).attr("stroke-width", 2);
legend.append("line")
  .attr("x1", 2644).attr("x2", 2718).attr("y1", 133).attr("y2", 133)
  .attr("stroke", "#000").attr("stroke-width", 3);
legend.append("text")
  .attr("x", 2726).attr("y", 127)
  .attr("font-family", FONT).attr("font-size", 34)
  .attr("fill", "#111")
  .text(seriesName);
</script>
</body>
</html>
